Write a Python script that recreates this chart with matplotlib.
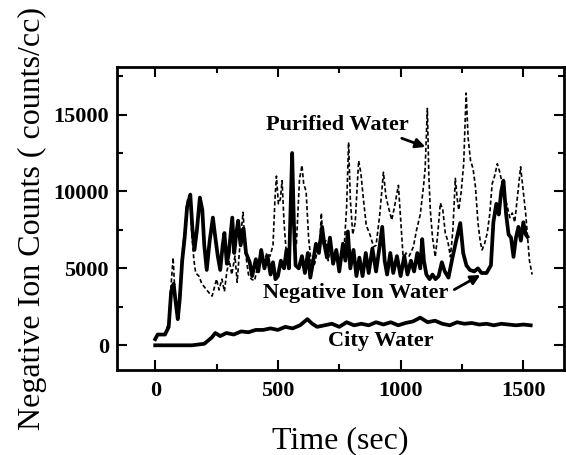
import numpy as np
import matplotlib
matplotlib.use("Agg")
from matplotlib import pyplot as plt
from matplotlib.ticker import MultipleLocator

plt.rcParams['font.family'] = ['Liberation Serif', 'DejaVu Serif']
plt.rcParams['font.weight'] = 'bold'

# Negative Ion Water (solid thick)
neg_t = [0, 10, 40, 55, 65, 75, 85, 92, 100, 110, 120, 130, 143, 152, 160, 170, 182, 192, 200, 210,
         222, 235, 245, 255, 265, 275, 282, 292, 300, 314, 322, 330, 338, 348, 360, 370, 385, 395, 410, 420,
         432, 445, 458, 470, 480, 490, 500, 512, 525, 535, 545, 552, 558, 565, 572, 585, 598, 610, 622, 632,
         642, 655, 667, 680, 690, 700, 712, 725, 738, 750, 765, 775, 785, 795, 808, 820, 832, 845, 858, 870,
         885, 900, 915, 925, 935, 945, 958, 970, 985, 1000, 1015, 1028, 1042, 1055, 1068, 1080, 1088, 1095, 1105, 1118,
         1130, 1142, 1155, 1168, 1180, 1195, 1210, 1225, 1243, 1255, 1268, 1282, 1300, 1315, 1330, 1350, 1368, 1378, 1390, 1400,
         1410, 1419, 1430, 1440, 1450, 1460, 1470, 1480, 1490, 1500, 1510, 1517]
neg_v = [400, 700, 700, 1200, 3500, 4000, 2600, 1700, 3000, 5500, 7000, 9000, 9800, 7500, 6200, 7500, 9600, 8800, 6500, 4900,
         6800, 8300, 7000, 5800, 4900, 6500, 7300, 5300, 6000, 8300, 6000, 7200, 8100, 6500, 7600, 6000, 5400, 4500, 5600, 4800,
         6200, 5000, 5800, 4600, 5400, 4300, 4500, 5500, 5000, 6200, 5000, 9000, 12500, 8000, 5200, 5000, 5800, 4700, 6000, 4400,
         5300, 6600, 6000, 7700, 6500, 5700, 7000, 5300, 6200, 4800, 6600, 5500, 7400, 5000, 6200, 4500, 5700, 4500, 6000, 4700,
         6300, 4800, 6500, 7700, 5500, 4600, 6000, 4700, 5800, 4500, 5800, 4600, 5500, 4800, 6000, 5000, 6900, 5500, 4600, 4300,
         4600, 4300, 4500, 5400, 4800, 4400, 5600, 6700, 7950, 6000, 5200, 4900, 4800, 5000, 4700, 4700, 5200, 8000, 9200, 8500,
         10000, 10700, 8500, 7200, 7000, 5750, 7000, 7700, 6800, 8000, 7200, 7050]

# Purified Water (dashed thin)
pur_t = [0, 10, 40, 55, 65, 73, 80, 90, 100, 110, 120, 132, 142, 150, 158, 165, 178, 190, 205, 220,
         232, 242, 250, 260, 272, 282, 292, 302, 312, 325, 334, 345, 358, 368, 380, 392, 405, 418, 430, 442,
         455, 468, 480, 488, 494, 502, 510, 517, 525, 535, 545, 555, 565, 575, 588, 598, 605, 615, 625, 638,
         650, 662, 672, 677, 685, 695, 705, 715, 725, 735, 748, 760, 771, 780, 788, 795, 805, 815, 822, 829,
         838, 849, 860, 875, 890, 900, 915, 930, 940, 950, 964, 975, 991, 1000, 1011, 1022, 1035, 1052, 1065, 1080,
         1093, 1100, 1109, 1115, 1121, 1130, 1141, 1150, 1162, 1172, 1182, 1192, 1203, 1213, 1223, 1230, 1237, 1247, 1257, 1267,
         1275, 1285, 1295, 1305, 1315, 1325, 1332, 1342, 1353, 1363, 1373, 1383, 1394, 1405, 1421, 1435, 1445, 1455, 1465, 1475,
         1489, 1500, 1510, 1516, 1525, 1536]
pur_v = [300, 700, 700, 1500, 4000, 5700, 3500, 2000, 3500, 6000, 7500, 9500, 9700, 7000, 5500, 4700, 4500, 4000, 3700, 3400,
         3200, 3800, 4300, 3600, 4300, 3500, 4800, 5500, 4600, 5800, 4100, 6500, 8650, 6000, 4600, 4300, 4200, 5200, 5600, 5300,
         6000, 5800, 6500, 9500, 11000, 9200, 9500, 10700, 8000, 5800, 6000, 9000, 8000, 6500, 10800, 11700, 10500, 10000, 7000, 5000,
         5300, 6300, 7000, 8600, 6500, 6800, 5500, 6500, 5200, 6000, 5500, 6200, 6650, 9000, 13200, 9500, 7200, 8000, 10000, 12000,
         11200, 9400, 7800, 7200, 6400, 6500, 8500, 11250, 9700, 9000, 8150, 9000, 10400, 8200, 5560, 6000, 5800, 6400, 7500, 8500,
         10300, 11500, 15400, 11000, 8800, 7000, 5750, 7000, 9250, 8800, 7300, 6800, 5750, 7500, 10850, 9600, 8800, 10000, 11800, 16400,
         13500, 12000, 11500, 10300, 8000, 6700, 6200, 6600, 7300, 8500, 10500, 11000, 11800, 11200, 9900, 9000, 8300, 8600, 8000, 9500,
         11600, 10000, 8500, 7300, 5500, 4600]

# City Water (solid thick, low)
city_t = [0, 100, 150, 200, 215, 230, 245, 265, 290, 320, 350, 380, 410, 440, 470, 500, 530, 560, 590, 620,
          640, 660, 690, 720, 750, 780, 810, 840, 870, 900, 930, 960, 990, 1020, 1050, 1080, 1110, 1140, 1170, 1200,
          1230, 1260, 1290, 1320, 1350, 1380, 1410, 1440, 1470, 1500, 1530]
city_v = [0, 0, 0, 100, 300, 500, 800, 600, 800, 700, 900, 850, 1000, 1000, 1100, 1000, 1200, 1100, 1300, 1700,
          1400, 1200, 1300, 1400, 1200, 1500, 1300, 1400, 1300, 1500, 1350, 1500, 1300, 1450, 1550, 1800, 1500, 1600, 1400, 1300,
          1500, 1400, 1450, 1350, 1400, 1300, 1400, 1350, 1300, 1350, 1300]

fig = plt.figure(figsize=(5.66, 4.55), dpi=100)
ax = fig.add_axes([0.207, 0.187, 0.79, 0.666])

ax.plot(pur_t, pur_v, color='black', lw=1.2, ls=(0, (2.5, 1.5)))
ax.plot(neg_t, neg_v, color='black', lw=2.7)
ax.plot(city_t, city_v, color='black', lw=2.7)

ax.set_xlim(-155, 1667)
ax.set_ylim(-1600, 18100)
ax.xaxis.set_major_locator(MultipleLocator(500))
ax.xaxis.set_minor_locator(MultipleLocator(250))
ax.yaxis.set_major_locator(MultipleLocator(5000))
ax.yaxis.set_minor_locator(MultipleLocator(2500))
ax.tick_params(which='both', direction='in', top=True, right=True, width=1.5, labelsize=16)
ax.tick_params(which='major', length=7)
ax.tick_params(axis='x', which='major', pad=8)
ax.tick_params(axis='y', which='major', pad=6)
ax.tick_params(which='minor', length=4)
for s in ax.spines.values():
    s.set_linewidth(2)

ax.set_xlabel('Time (sec)', fontsize=23, fontweight='normal')
ax.set_ylabel('Negative Ion Counts ( counts/cc)', fontsize=23, fontweight='normal')
ax.xaxis.set_label_coords(0.5, -0.185)
ax.yaxis.set_label_coords(-0.158, 0.5)

ax.annotate('Purified Water', xy=(1101, 12900), xytext=(742, 14350), fontsize=16,
            ha='center', va='center',
            arrowprops=dict(arrowstyle='-|>', color='black', lw=2, mutation_scale=14,
                            relpos=(0.88, 0.0), shrinkA=2, shrinkB=0))
ax.annotate('Negative Ion Water', xy=(1325, 4570), xytext=(815, 3390), fontsize=16,
            ha='center', va='center',
            arrowprops=dict(arrowstyle='-|>', color='black', lw=2, mutation_scale=14,
                            relpos=(1.0, 0.5), shrinkA=3, shrinkB=0))
ax.text(920, 300, 'City Water', fontsize=16, ha='center', va='center')

fig.savefig('out.png', dpi=100)
